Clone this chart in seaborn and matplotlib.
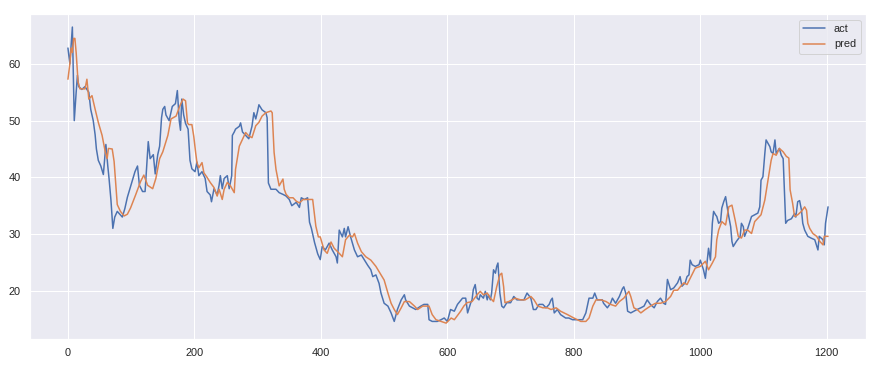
import matplotlib
matplotlib.use('Agg')
import matplotlib.pyplot as plt
import seaborn as sns

# act series (index, value)
act_x = [0, 3, 7, 10, 13, 15, 17, 22, 27, 33, 36, 40, 43, 45, 48, 52, 56, 60, 63, 65,
         68, 71, 74, 78, 82, 86, 90, 94, 98, 102, 106, 110, 113, 118, 122, 127, 130, 135, 138, 142,
         145, 148, 150, 153, 155, 160, 165, 170, 173, 176, 178, 180, 183, 186, 190, 193, 196, 201, 204, 207,
         212, 217, 220, 225, 227, 231, 236, 239, 241, 244, 247, 252, 255, 259, 260, 263, 265, 271, 273, 276,
         281, 286, 291, 294, 297, 300, 302, 307, 313, 315, 317, 321, 329, 334, 340, 345, 350, 354, 361, 366,
         369, 374, 379, 382, 385, 390, 395, 399, 402, 407, 413, 418, 424, 426, 429, 434, 437, 439, 443, 447,
         453, 458, 464, 469, 474, 479, 482, 487, 492, 495, 500, 506, 511, 516, 521, 527, 532, 534, 540, 545,
         550, 558, 563, 569, 571, 576, 584, 590, 595, 600, 605, 611, 616, 624, 629, 632, 637, 639, 641, 644,
         647, 650, 652, 657, 660, 663, 665, 668, 670, 673, 676, 678, 680, 683, 686, 689, 694, 700, 705, 710,
         716, 721, 726, 732, 736, 740, 745, 751, 756, 761, 764, 766, 769, 774, 779, 787, 792, 798, 803, 808,
         814, 819, 824, 830, 833, 837, 845, 847, 853, 858, 861, 866, 872, 877, 879, 882, 885, 890, 895, 900,
         906, 911, 916, 921, 927, 932, 937, 942, 945, 948, 953, 958, 964, 968, 971, 976, 979, 982, 984, 987,
         992, 998, 1000, 1005, 1008, 1013, 1016, 1019, 1021, 1024, 1026, 1029, 1032, 1034, 1037, 1040, 1042, 1045, 1048, 1050,
         1052, 1057, 1063, 1065, 1068, 1070, 1075, 1081, 1086, 1091, 1094, 1096, 1099, 1102, 1104, 1107, 1110, 1112, 1115, 1118,
         1120, 1125, 1128, 1131, 1133, 1135, 1138, 1144, 1149, 1151, 1154, 1157, 1160, 1162, 1165, 1170, 1175, 1181, 1186, 1188,
         1194, 1196, 1198, 1202]
act_y = [62.8, 60.0, 66.5, 50.0, 55.0, 58.0, 56.0, 55.5, 56.0, 55.0, 52.0, 50.0, 47.5, 45.0, 43.0, 42.0, 40.5, 45.8, 42.0, 39.8,
         36.0, 31.0, 33.0, 34.0, 33.5, 33.0, 34.5, 36.5, 38.0, 39.5, 41.0, 42.0, 38.6, 37.5, 37.5, 46.3, 43.3, 44.0, 40.6, 44.0,
         45.5, 50.5, 52.0, 52.5, 51.0, 50.0, 52.5, 53.0, 55.3, 50.0, 48.3, 53.8, 51.0, 49.5, 48.5, 43.0, 41.5, 41.0, 42.7, 40.3,
         41.0, 39.8, 37.5, 36.9, 35.7, 38.0, 36.9, 38.6, 40.3, 38.0, 39.8, 40.3, 38.0, 40.3, 47.4, 48.0, 48.5, 49.0, 49.6, 48.0,
         47.4, 46.8, 49.0, 51.4, 50.3, 51.7, 52.8, 51.9, 51.4, 50.5, 39.0, 37.9, 37.9, 37.3, 37.0, 36.7, 36.1, 35.0, 35.6, 34.7,
         36.4, 36.1, 36.4, 32.1, 31.0, 28.5, 26.5, 25.5, 27.8, 27.2, 28.4, 27.2, 26.0, 24.9, 30.7, 29.5, 31.0, 29.5, 31.3, 29.5,
         27.2, 26.0, 26.3, 25.4, 24.5, 23.7, 22.5, 22.8, 21.3, 19.6, 17.8, 17.3, 16.1, 14.6, 16.7, 18.4, 19.3, 18.4, 17.3, 17.0,
         16.7, 17.3, 17.6, 17.6, 14.9, 14.6, 14.6, 14.9, 15.2, 14.6, 16.7, 16.4, 17.6, 18.7, 18.7, 16.1, 17.9, 18.4, 20.2, 21.1,
         18.7, 18.4, 19.3, 18.7, 19.9, 18.4, 19.3, 18.4, 19.6, 23.7, 23.1, 24.3, 24.9, 19.6, 17.3, 17.0, 17.9, 17.9, 19.0, 18.4,
         18.4, 18.4, 19.6, 18.7, 16.7, 16.7, 17.6, 17.6, 17.0, 17.6, 18.4, 18.7, 16.1, 16.7, 15.8, 15.2, 15.2, 14.9, 14.9, 14.9,
         14.9, 16.1, 18.7, 18.7, 19.6, 18.4, 18.4, 17.8, 17.0, 17.8, 18.7, 17.8, 19.0, 20.4, 20.7, 19.6, 16.4, 16.1, 16.4, 16.7,
         17.0, 17.3, 18.4, 17.6, 17.0, 18.1, 18.7, 17.8, 17.6, 22.0, 20.2, 20.5, 21.4, 22.5, 20.8, 21.4, 22.5, 22.8, 25.4, 24.6,
         24.3, 24.6, 25.4, 23.7, 22.2, 27.5, 25.4, 31.9, 34.0, 33.4, 33.1, 31.9, 32.2, 34.6, 35.7, 36.6, 35.1, 33.1, 31.3, 28.7,
         27.8, 28.7, 29.6, 31.9, 31.3, 29.6, 31.0, 33.1, 33.4, 33.7, 34.8, 39.5, 40.1, 44.2, 46.6, 46.0, 45.4, 44.5, 44.2, 46.6,
         44.2, 45.1, 43.9, 43.3, 37.7, 31.9, 32.4, 32.7, 33.6, 33.0, 35.7, 35.9, 34.2, 31.9, 30.7, 29.6, 29.3, 29.0, 27.2, 29.6,
         29.0, 28.1, 31.9, 34.8]

# pred series
pred_x = [0, 3, 5, 7, 9, 11, 13, 16, 19, 27, 30, 33, 38, 43, 48, 54, 59, 62, 64, 70,
          73, 75, 78, 83, 89, 94, 99, 107, 115, 120, 126, 134, 139, 145, 150, 158, 163, 171, 177, 182,
          186, 189, 191, 196, 199, 202, 204, 207, 212, 215, 220, 225, 231, 236, 239, 244, 247, 252, 257, 263,
          265, 271, 276, 281, 286, 291, 297, 302, 307, 313, 321, 323, 326, 329, 334, 340, 342, 345, 350, 356,
          361, 366, 372, 382, 387, 392, 396, 399, 405, 410, 416, 421, 429, 434, 439, 445, 450, 453, 458, 464,
          471, 479, 487, 495, 500, 506, 511, 516, 521, 527, 532, 540, 548, 553, 561, 571, 576, 582, 590, 598,
          606, 611, 621, 626, 631, 639, 647, 652, 657, 663, 668, 673, 678, 683, 686, 689, 691, 697, 702, 707,
          716, 723, 732, 737, 743, 751, 758, 764, 772, 779, 790, 800, 811, 819, 824, 830, 835, 843, 851, 858,
          866, 872, 879, 887, 890, 895, 900, 906, 913, 921, 929, 937, 945, 953, 958, 964, 969, 974, 979, 984,
          992, 1000, 1008, 1013, 1019, 1024, 1026, 1029, 1034, 1040, 1045, 1050, 1055, 1060, 1065, 1070, 1075, 1081, 1086, 1091,
          1096, 1102, 1107, 1112, 1115, 1120, 1125, 1131, 1136, 1140, 1142, 1146, 1149, 1154, 1160, 1165, 1168, 1170, 1173, 1178,
          1184, 1189, 1194, 1196, 1202]
pred_y = [57.3, 60.0, 62.8, 62.0, 64.5, 64.5, 62.0, 56.8, 55.6, 55.6, 57.3, 53.8, 54.4, 52.0, 49.7, 47.4, 44.5, 43.3, 45.1, 45.0,
          42.8, 39.8, 35.2, 34.0, 33.2, 33.5, 34.6, 36.9, 39.3, 40.4, 38.6, 38.0, 39.8, 43.3, 44.5, 47.4, 50.3, 50.8, 52.6, 53.8,
          53.5, 49.6, 49.3, 49.3, 47.2, 44.3, 42.6, 41.7, 42.6, 40.8, 40.0, 39.1, 38.2, 36.7, 37.9, 36.1, 37.9, 39.1, 38.5, 37.3,
          41.4, 45.5, 46.7, 47.9, 47.3, 47.0, 49.1, 49.7, 50.8, 51.4, 51.7, 51.4, 44.4, 41.4, 38.5, 39.7, 37.9, 37.0, 36.4, 36.4,
          35.8, 35.5, 36.1, 36.1, 36.1, 31.4, 29.5, 29.5, 27.2, 26.6, 28.6, 27.5, 26.6, 26.0, 29.0, 29.8, 29.5, 30.1, 28.4, 26.9,
          26.0, 25.4, 24.3, 22.8, 21.9, 19.6, 17.8, 16.7, 15.8, 17.0, 18.1, 18.1, 17.3, 16.7, 17.3, 17.3, 15.8, 14.9, 14.6, 14.3,
          15.2, 14.9, 16.4, 17.3, 17.9, 18.1, 19.3, 19.9, 19.3, 19.6, 18.7, 18.1, 20.7, 22.8, 23.1, 20.7, 17.9, 18.1, 18.4, 18.7,
          18.4, 18.4, 19.0, 18.4, 17.3, 17.0, 17.0, 16.7, 17.0, 16.4, 15.8, 15.2, 14.6, 14.6, 15.2, 17.3, 18.4, 18.4, 18.1, 17.6,
          17.3, 18.1, 18.7, 19.9, 19.0, 17.0, 16.7, 16.1, 16.7, 17.3, 17.8, 17.8, 18.1, 19.0, 20.1, 20.1, 20.8, 21.4, 21.1, 22.2,
          24.0, 24.3, 25.2, 23.7, 24.9, 26.0, 29.0, 30.7, 32.2, 31.6, 34.8, 35.1, 32.5, 29.6, 29.3, 30.7, 30.7, 30.1, 32.2, 32.8,
          33.4, 36.0, 39.5, 43.0, 44.2, 43.9, 45.1, 44.5, 43.7, 43.4, 37.8, 35.4, 33.1, 33.4, 34.0, 34.8, 34.2, 31.9, 31.0, 30.1,
          29.6, 28.7, 28.1, 29.6, 29.6]

sns.set_theme(style='darkgrid')
plt.rcParams['font.family'] = ['Liberation Sans', 'DejaVu Sans']

fig, ax = plt.subplots(figsize=(879 / 72, 366 / 72), dpi=72)
fig.subplots_adjust(left=30 / 879, right=866 / 879, top=1 - 14 / 366, bottom=1 - 339 / 366)

sns.lineplot(x=act_x, y=act_y, ax=ax, label='act')
sns.lineplot(x=pred_x, y=pred_y, ax=ax, label='pred')

ax.set_xlim(-60, 1262)
ax.set_ylim(11.5, 68.8)
ax.set_xticks([0, 200, 400, 600, 800, 1000, 1200])
ax.set_yticks([20, 30, 40, 50, 60])
ax.legend(loc='upper right')

fig.savefig('out.png', dpi=72)
